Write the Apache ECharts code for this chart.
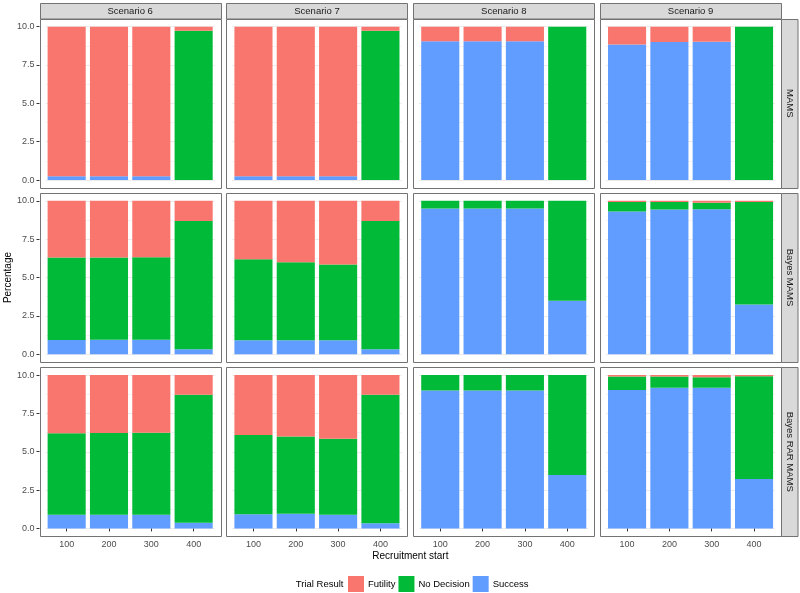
<!DOCTYPE html>
<html>
<head>
<meta charset="utf-8">
<script src="https://cdn.jsdelivr.net/npm/echarts@6/dist/echarts.min.js"></script>
<style>html,body{margin:0;padding:0;background:#fff}#c{width:800px;height:593px}</style>
</head>
<body>
<div id="c"></div>
<script>
// ---- data ----
const scenarios = ['Scenario 6', 'Scenario 7', 'Scenario 8', 'Scenario 9'];
const methods = ['MAMS', 'Bayes MAMS', 'Bayes RAR MAMS'];
const recruitStart = ['100', '200', '300', '400'];
const yTicks = [0, 2.5, 5, 7.5, 10];
const resultNames = ['Futility', 'No Decision', 'Success'];

// each array: [Scenario 6, Scenario 7, Scenario 8, Scenario 9], values per recruitment start
const successMAMS = [[0.25, 0.25, 0.25, 0], [0.25, 0.25, 0.25, 0], [9.05, 9.05, 9.05, 0], [8.83, 9.0, 9.02, 0]];
const noDecisionMAMS = [[0, 0, 0, 9.74], [0, 0, 0, 9.74], [0, 0, 0, 10], [0, 0, 0, 10]];
const futilityMAMS = [[9.75, 9.75, 9.75, 0.26], [9.75, 9.75, 9.75, 0.26], [0.95, 0.95, 0.95, 0], [1.17, 1.0, 0.98, 0]];

const successBayes = [[0.93, 0.95, 0.95, 0.33], [0.91, 0.91, 0.91, 0.33], [9.5, 9.5, 9.5, 3.48], [9.31, 9.44, 9.46, 3.24]];
const noDecisionBayes = [[5.38, 5.36, 5.38, 8.35], [5.29, 5.09, 4.94, 8.35], [0.5, 0.5, 0.5, 6.52], [0.61, 0.48, 0.41, 6.68]];
const futilityBayes = [[3.69, 3.69, 3.67, 1.32], [3.8, 4.0, 4.15, 1.32], [0, 0, 0, 0], [0.08, 0.08, 0.13, 0.08]];

const successRAR = [[0.89, 0.89, 0.9, 0.37], [0.93, 0.95, 0.9, 0.33], [9.0, 8.99, 8.99, 3.49], [9.02, 9.18, 9.18, 3.23]];
const noDecisionRAR = [[5.31, 5.33, 5.34, 8.35], [5.17, 5.04, 4.94, 8.39], [1.0, 1.01, 1.01, 6.51], [0.89, 0.72, 0.67, 6.69]];
const futilityRAR = [[3.8, 3.78, 3.76, 1.28], [3.9, 4.01, 4.16, 1.28], [0, 0, 0, 0], [0.09, 0.1, 0.15, 0.08]];

const successAll = [successMAMS, successBayes, successRAR];
const noDecisionAll = [noDecisionMAMS, noDecisionBayes, noDecisionRAR];
const futilityAll = [futilityMAMS, futilityBayes, futilityRAR];

// ---- layout ----
const FONT = 'Liberation Sans, Arial, Helvetica, sans-serif';
const colors = { 'Futility': '#F8766D', 'No Decision': '#00BA38', 'Success': '#619CFF' };
const L = 39.5, colW = 181.3, gapX = 5.5;
const T = 19, rowH = 168.7, gapY = 5.5;
const xPad = 6, yPad = rowH * 0.5 / 11;
const frameColor = '#737373';

const grids = [], xAxes = [], yAxes = [], series = [], graphics = [];
let idx = 0;
for (let r = 0; r < methods.length; r++) {
  for (let c = 0; c < scenarios.length; c++) {
    const px = L + c * (colW + gapX), py = T + r * (rowH + gapY);
    grids.push({ left: px + xPad, top: py + yPad, width: colW - 2 * xPad, height: rowH - 2 * yPad, containLabel: false });
    xAxes.push({
      type: 'category', gridIndex: idx, data: recruitStart, offset: yPad,
      axisLine: { show: false },
      axisTick: { show: r === methods.length - 1, alignWithLabel: true, length: 3, lineStyle: { color: '#333' } },
      axisLabel: { show: r === methods.length - 1, color: '#4d4d4d', fontSize: 9, margin: 4, fontFamily: FONT },
      splitLine: { show: false }
    });
    yAxes.push({
      type: 'value', gridIndex: idx, min: 0, max: 10, interval: 2.5, offset: xPad,
      axisLine: { show: false },
      axisTick: { show: c === 0, length: 3, lineStyle: { color: '#333' } },
      axisLabel: { show: c === 0, color: '#4d4d4d', fontSize: 9, margin: 5, fontFamily: FONT, formatter: v => v.toFixed(1) },
      splitLine: { show: true, lineStyle: { color: '#EBEBEB', width: 1 } },
      minorTick: { show: false, splitNumber: 2 },
      minorSplitLine: { show: true, lineStyle: { color: '#F4F4F4', width: 1 } }
    });
    const parts = [['Success', successAll[r][c]], ['No Decision', noDecisionAll[r][c]], ['Futility', futilityAll[r][c]]];
    parts.forEach(([name, vals]) => {
      series.push({
        type: 'bar', name, xAxisIndex: idx, yAxisIndex: idx, stack: 'p' + idx,
        data: vals, barWidth: '90%', itemStyle: { color: colors[name] },
        emphasis: { disabled: true }, animation: false
      });
    });
    // panel frame
    graphics.push({ type: 'rect', shape: { x: Math.round(px) + 0.5, y: Math.round(py) + 0.5, width: Math.round(colW), height: Math.round(rowH) },
      style: { fill: 'none', stroke: frameColor, lineWidth: 1 }, z: 100 });
    idx++;
  }
}
// top strips
for (let c = 0; c < scenarios.length; c++) {
  const px = L + c * (colW + gapX);
  graphics.push({ type: 'rect', shape: { x: Math.round(px) + 0.5, y: 3.5, width: Math.round(colW), height: 15.5 },
    style: { fill: '#D9D9D9', stroke: frameColor, lineWidth: 1 }, z: 100 });
  graphics.push({ type: 'text', x: px + colW / 2, y: 11.5, z: 101,
    style: { text: scenarios[c], fill: '#1a1a1a', font: '9.5px ' + FONT, align: 'center', verticalAlign: 'middle' } });
}
// right strips
const stripX = L + 4 * colW + 3 * gapX;
for (let r = 0; r < methods.length; r++) {
  const py = T + r * (rowH + gapY);
  graphics.push({ type: 'rect', shape: { x: Math.round(stripX) + 0.5, y: Math.round(py) + 0.5, width: 16.5, height: Math.round(rowH) },
    style: { fill: '#D9D9D9', stroke: frameColor, lineWidth: 1 }, z: 100 });
  graphics.push({ type: 'text', x: stripX + 8.5, y: py + rowH / 2, rotation: -Math.PI / 2, z: 101,
    style: { text: methods[r], fill: '#1a1a1a', font: '9.5px ' + FONT, align: 'center', verticalAlign: 'middle' } });
}
// axis titles
graphics.push({ type: 'text', x: L + (4 * colW + 3 * gapX) / 2, y: 556, z: 101,
  style: { text: 'Recruitment start', fill: '#000', font: '10px ' + FONT, align: 'center', verticalAlign: 'middle' } });
graphics.push({ type: 'text', x: 8, y: T + (3 * rowH + 2 * gapY) / 2, rotation: Math.PI / 2, z: 101,
  style: { text: 'Percentage', fill: '#000', font: '10px ' + FONT, align: 'center', verticalAlign: 'middle' } });
graphics.push({ type: 'text', x: 343.5, y: 584, z: 101,
  style: { text: 'Trial Result', fill: '#000', font: '9.5px ' + FONT, align: 'right', verticalAlign: 'middle' } });

const chart = echarts.init(document.getElementById('c'), null, { renderer: 'canvas' });
chart.setOption({
  animation: false,
  backgroundColor: '#fff',
  grid: grids, xAxis: xAxes, yAxis: yAxes, series,
  legend: {
    data: resultNames, left: 348, top: 576, padding: 0, icon: 'rect', itemWidth: 16, itemHeight: 16, itemGap: 3,
    textStyle: { fontSize: 9.5, color: '#000', fontFamily: FONT, padding: [0, 0, 0, -1] }, selectedMode: false
  },
  graphic: graphics
});
</script>
</body>
</html>
